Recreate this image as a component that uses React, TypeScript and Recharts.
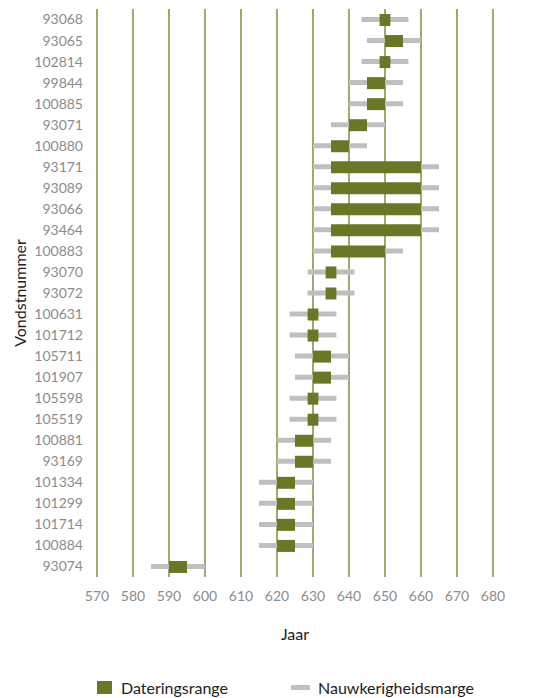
import React from 'react';
import { Bar, BarChart, CartesianGrid, XAxis, YAxis } from 'recharts';

const vondsten = [
  '93068', '93065', '102814', '99844', '100885', '93071', '100880', '93171', '93089',
  '93066', '93464', '100883', '93070', '93072', '100631', '101712', '105711', '101907',
  '105598', '105519', '100881', '93169', '101334', '101299', '101714', '100884', '93074',
];

// dateringsrange (begin/eind)
const dateringVan = [648.5, 650, 648.5, 645, 645, 640, 635, 635, 635, 635, 635, 635, 633.5, 633.5, 628.5, 628.5, 630, 630, 628.5, 628.5, 625, 625, 620, 620, 620, 620, 590];
const dateringTot = [651.5, 655, 651.5, 650, 650, 645, 640, 660, 660, 660, 660, 650, 636.5, 636.5, 631.5, 631.5, 635, 635, 631.5, 631.5, 630, 630, 625, 625, 625, 625, 595];

// nauwkeurigheidsmarge
const margeVan = [643.5, 645, 643.5, 640, 640, 635, 630, 630, 630, 630, 630, 630, 628.5, 628.5, 623.5, 623.5, 625, 625, 623.5, 623.5, 620, 620, 615, 615, 615, 615, 585];
const margeTot = [656.5, 660, 656.5, 655, 655, 650, 645, 665, 665, 665, 665, 655, 641.5, 641.5, 636.5, 636.5, 640, 640, 636.5, 636.5, 635, 635, 630, 630, 630, 630, 600];

const jaarTicks = [570, 580, 590, 600, 610, 620, 630, 640, 650, 660, 670, 680];

const data = vondsten.map((v, i) => ({
  vondst: v,
  datering: [dateringVan[i], dateringTot[i]],
  marge: [margeVan[i], margeTot[i]],
}));

const FONT = 'Lato, "Open Sans", sans-serif';
const OLIVE = '#6b7727';
const GREY = '#bfbfbf';

export default function App() {
  return (
    <div style={{ position: 'absolute', left: 0, top: 0, width: 541, height: 698, fontFamily: FONT, background: '#fff' }}>
      <BarChart
        width={541}
        height={698}
        data={data}
        layout="vertical"
        margin={{ top: 9, right: 48, bottom: 61, left: 0 }}
        barCategoryGap={0}
      >
        <CartesianGrid horizontal={false} stroke="#7f8d38" strokeWidth={1.5} />
        <XAxis
          type="number"
          domain={[570, 680]}
          ticks={jaarTicks}
          axisLine={false}
          tickLine={false}
          tick={{ fill: '#8c8c8c', fontSize: 14, fontFamily: FONT }}
          tickMargin={8}
          height={60}
          label={{ value: 'Jaar', position: 'insideBottom', offset: -3, fill: '#222', fontSize: 16, fontFamily: FONT }}
        />
        <YAxis
          type="category"
          dataKey="vondst"
          width={97}
          axisLine={false}
          tickLine={false}
          tickMargin={8}
          interval={0}
          tick={{ fill: '#8c8c8c', fontSize: 14, fontFamily: FONT }}
          label={{ value: 'Vondstnummer', angle: -90, position: 'insideLeft', offset: 20, fill: '#222', fontSize: 16, fontFamily: FONT, style: { textAnchor: 'middle' } }}
        />
        <YAxis yAxisId="marge" type="category" dataKey="vondst" hide />
        <Bar yAxisId="marge" dataKey="marge" name="Nauwkerigheidsmarge" fill={GREY} barSize={5} isAnimationActive={false} />
        <Bar dataKey="datering" name="Dateringsrange" fill={OLIVE} barSize={12} isAnimationActive={false} />
      </BarChart>
      <div style={{ position: 'absolute', left: 97, top: 678, display: 'flex', alignItems: 'center', fontSize: 16, color: '#222' }}>
        <span style={{ display: 'inline-block', width: 15, height: 13, background: OLIVE, marginRight: 9 }} />
        <span style={{ width: 170 }}>Dateringsrange</span>
        <span style={{ display: 'inline-block', width: 19, height: 5, background: GREY, marginRight: 8 }} />
        <span>Nauwkerigheidsmarge</span>
      </div>
    </div>
  );
}
